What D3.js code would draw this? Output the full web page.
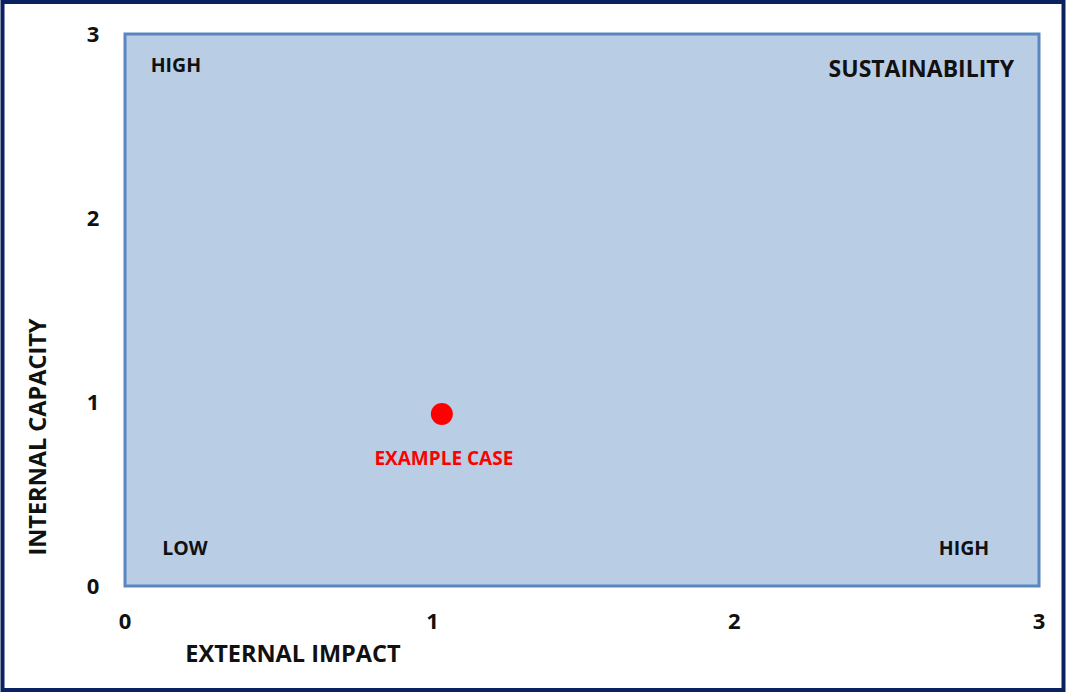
<!DOCTYPE html>
<html>
<head>
<meta charset="utf-8">
<script src="https://cdn.jsdelivr.net/npm/d3@7"></script>
<style>
  html, body { margin: 0; padding: 0; background: #fff; }
  text { font-family: "Open Sans", "Noto Sans", sans-serif; font-weight: bold; }
</style>
</head>
<body>
<div id="content" style="width:1067px;height:693px;"></div>
<script>
var width = 1067, height = 693;

// data
var xTicks = [0, 1, 2, 3];
var yTicks = [0, 1, 2, 3];
var points = [{ name: 'EXAMPLE CASE', x: 1.04, y: 0.935 }];
var cornerLabels = [
  { text: 'HIGH', x: 0.167, y: 2.83, anchor: 'middle', size: 19.5 },
  { text: 'LOW', x: 0.197, y: 0.205, anchor: 'middle', size: 19.5 },
  { text: 'HIGH', x: 2.754, y: 0.205, anchor: 'middle', size: 19.5 },
  { text: 'SUSTAINABILITY', x: 2.918, y: 2.81, anchor: 'end', size: 23 }
];

var margin = { left: 125, right: 28, top: 34, bottom: 107 };

var svg = d3.select('div#content').append('svg')
  .attr('width', width)
  .attr('height', height);

// outer frame
svg.append('rect')
  .attr('x', 2.5).attr('y', 2)
  .attr('width', width - 6).attr('height', height - 5)
  .attr('fill', '#fff')
  .attr('stroke', '#0c2260')
  .attr('stroke-width', 4);

var x = d3.scaleLinear().domain([0, 3]).range([margin.left, width - margin.right]);
var y = d3.scaleLinear().domain([0, 3]).range([height - margin.bottom, margin.top]);

// plot area
svg.append('rect')
  .attr('x', x(0)).attr('y', y(3))
  .attr('width', x(3) - x(0)).attr('height', y(0) - y(3))
  .attr('fill', '#b9cde5')
  .attr('stroke', '#5a86bf')
  .attr('stroke-width', 3);

// tick labels
svg.append('g').selectAll('text')
  .data(xTicks).enter().append('text')
  .attr('x', function(d){ return x(d) + (d === 1 ? 3 : 0); })
  .attr('y', 629)
  .attr('text-anchor', 'middle')
  .attr('font-size', 22)
  .attr('fill', '#111')
  .text(function(d){ return d; });

svg.append('g').selectAll('text')
  .data(yTicks).enter().append('text')
  .attr('x', 93)
  .attr('y', function(d){ return y(d); })
  .attr('dy', '0.35em')
  .attr('text-anchor', 'middle')
  .attr('font-size', 22)
  .attr('fill', '#111')
  .text(function(d){ return d; });

// axis titles
svg.append('text')
  .attr('x', 293).attr('y', 662)
  .attr('text-anchor', 'middle')
  .attr('font-size', 23.5)
  .attr('fill', '#111')
  .text('EXTERNAL IMPACT');

svg.append('text')
  .attr('transform', 'translate(46,437) rotate(-90)')
  .attr('text-anchor', 'middle')
  .attr('font-size', 23.5)
  .attr('fill', '#111')
  .text('INTERNAL CAPACITY');

// corner labels
svg.append('g').selectAll('text')
  .data(cornerLabels).enter().append('text')
  .attr('x', function(d){ return x(d.x); })
  .attr('y', function(d){ return y(d.y); })
  .attr('dy', '0.35em')
  .attr('text-anchor', function(d){ return d.anchor; })
  .attr('font-size', function(d){ return d.size; })
  .attr('fill', '#111')
  .text(function(d){ return d.text; });

// points
var pg = svg.append('g');
pg.selectAll('circle')
  .data(points).enter().append('circle')
  .attr('cx', function(d){ return x(d.x); })
  .attr('cy', function(d){ return y(d.y); })
  .attr('r', 11)
  .attr('fill', '#ff0000');
pg.selectAll('text')
  .data(points).enter().append('text')
  .attr('x', function(d){ return x(d.x) + 2; })
  .attr('y', function(d){ return y(d.y) + 44; })
  .attr('dy', '0.35em')
  .attr('text-anchor', 'middle')
  .attr('font-size', 19)
  .attr('fill', '#ff0000')
  .text(function(d){ return d.name; });
</script>
</body>
</html>
